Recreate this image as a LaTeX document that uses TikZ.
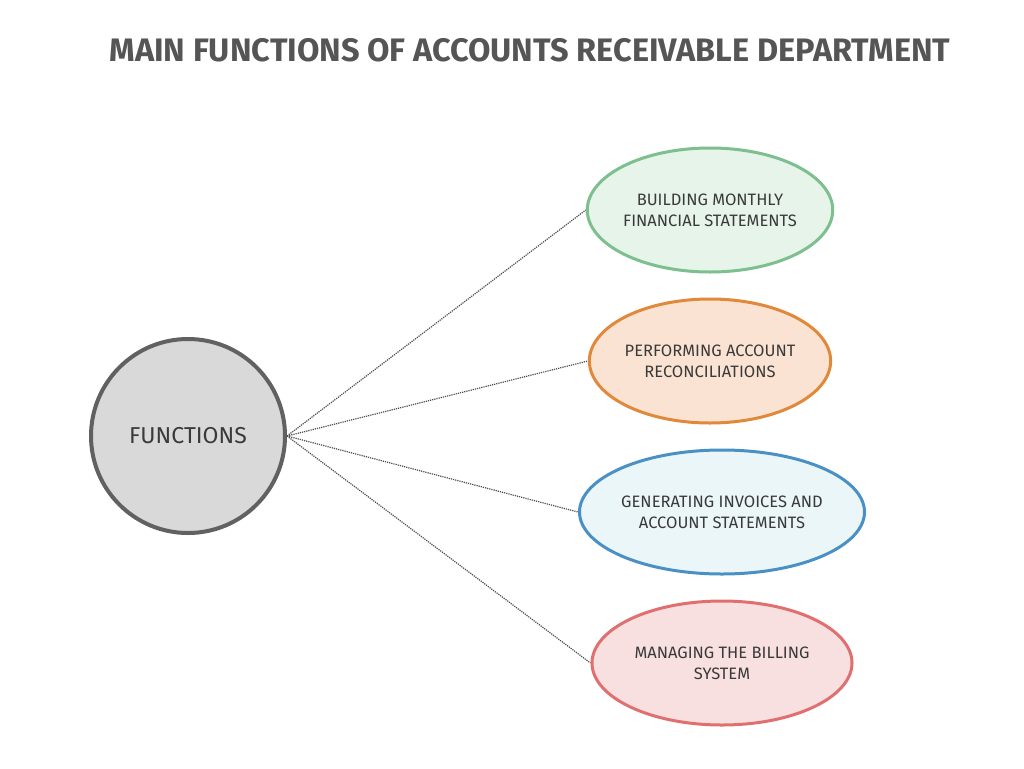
\documentclass[tikz,border=0pt]{standalone}
\usepackage{fontspec}
\setmainfont{Fira Sans}
\usetikzlibrary{shapes.geometric}
\definecolor{titlegray}{HTML}{555555}
\definecolor{txtgray}{HTML}{3A3A3A}
\begin{document}
\begin{tikzpicture}[x=1pt,y=-1pt,
    oval/.style={ellipse, line width=3pt, align=center, font=\fontsize{16.5}{21}\selectfont\color{txtgray}, inner sep=0pt},
    link/.style={densely dotted, line width=1.2pt, color=black!70}]
  \useasboundingbox (0,0) rectangle (1024,768);
  \node [font=\fontsize{32.5}{36}\selectfont\bfseries, text=titlegray] (title) at (530,50) {MAIN FUNCTIONS OF ACCOUNTS RECEIVABLE DEPARTMENT};
  \node [circle, draw=black!62, fill=black!15, line width=4pt, minimum size=194pt, font=\fontsize{23}{27}\selectfont\color{txtgray}] (F) at (188,436) {FUNCTIONS};
  \node [oval, draw={rgb,255:red,125;green,191;blue,142}, fill={rgb,255:red,230;green,244;blue,234}, minimum width=236pt, minimum height=124pt] (B) at (710,210) {BUILDING MONTHLY\\FINANCIAL STATEMENTS};
  \node [oval, draw={rgb,255:red,224;green,137;blue,58}, fill={rgb,255:red,251;green,227;blue,211}, minimum width=236pt, minimum height=124pt] (P) at (710,361) {PERFORMING ACCOUNT\\RECONCILIATIONS};
  \node [oval, draw={rgb,255:red,74;green,144;blue,196}, fill={rgb,255:red,234;green,246;blue,248}, minimum width=260pt, minimum height=124pt] (G) at (722,512) {GENERATING INVOICES AND\\ACCOUNT STATEMENTS};
  \node [oval, draw={rgb,255:red,224;green,112;blue,112}, fill={rgb,255:red,248;green,224;blue,224}, minimum width=260pt, minimum height=124pt] (M) at (722,663) {MANAGING THE BILLING\\SYSTEM};

  \draw [link] (F.east) -- (B.west);
  \draw [link] (F.east) -- (P.west);
  \draw [link] (F.east) -- (G.west);
  \draw [link] (F.east) -- (M.west);
\end{tikzpicture}
\end{document}
